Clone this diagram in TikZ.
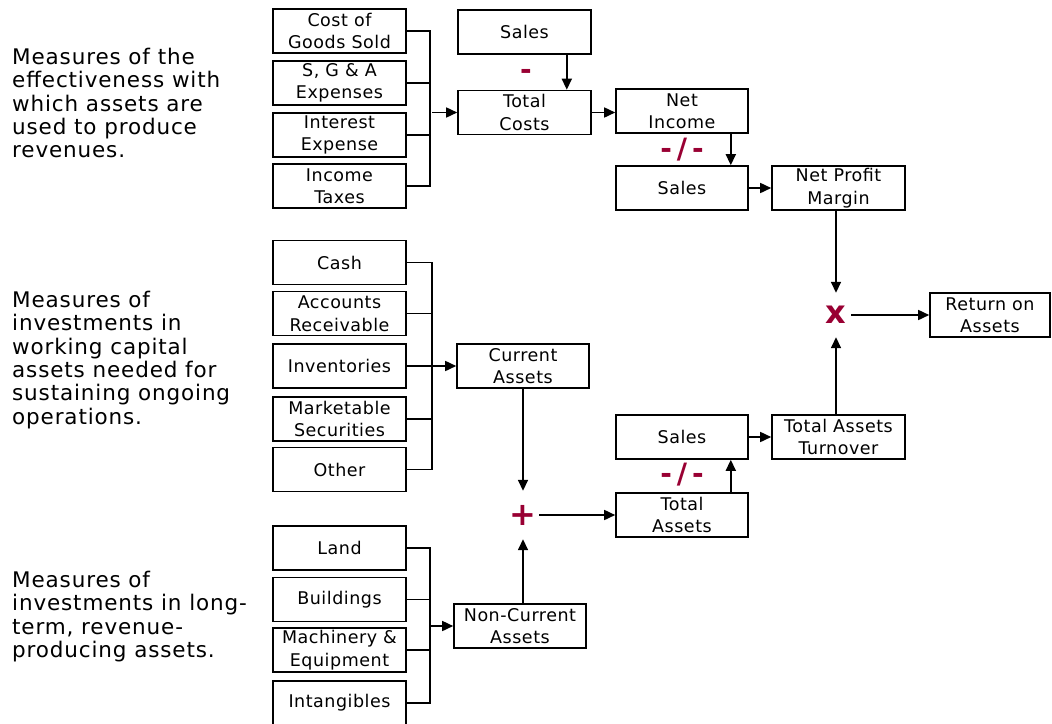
\documentclass[tikz,border=0pt]{standalone}
\usepackage{fontspec}
\setmainfont{DejaVu Sans}
\newfontfamily\boxfont[LetterSpace=3]{DejaVu Sans}
\newfontfamily\sidefont[LetterSpace=4]{DejaVu Sans}
\usetikzlibrary{arrows.meta,calc}
\definecolor{symred}{RGB}{153,0,51}
\begin{document}
\begin{tikzpicture}[x=1pt,y=-1pt,
  box/.style={draw=black, line width=1.6pt, fill=white, minimum width=133pt, minimum height=44pt, inner sep=0pt, align=center, font=\boxfont\fontsize{17.5}{22.5}\selectfont},
  conn/.style={line width=1.6pt},
  arr/.style={conn, -{Triangle[length=11pt,width=10pt]}},
  sym/.style={text=symred, font=\fontsize{28}{28}\selectfont\bfseries, inner sep=0pt},
  bigsym/.style={sym, font=\fontsize{32}{32}\selectfont\bfseries},
  side/.style={anchor=north west, align=left, font=\sidefont\fontsize{21.5}{23.3}\selectfont, inner sep=0pt}]
\useasboundingbox (0,0) rectangle (1052,723);
\clip (0,0) rectangle (1052,723);
\fill[white] (0,0) rectangle (1052,723);

% side texts
\node[side] (t1) at (12,48) {Measures of the\\effectiveness with\\which assets are\\used to produce\\revenues.};
\node[side] (t2) at (12,291) {Measures of\\investments in\\working capital\\assets needed for\\sustaining ongoing\\operations.};
\node[side] (t3) at (12,571) {Measures of\\investments in long-\\term, revenue-\\producing assets.};

% boxes
\node[box] (cogs) at (339.5,31) {Cost of\\Goods Sold};
\node[box] (sga) at (339.5,83) {S, G \& A\\Expenses};
\node[box] (intexp) at (339.5,135) {Interest\\Expense};
\node[box] (tax) at (339.5,186) {Income\\Taxes};
\node[box] (salesA) at (524.5,32) {Sales};
\node[box] (tcost) at (524.5,112.5) {Total\\Costs};
\node[box, minimum width=132pt] (netinc) at (682,111) {Net\\Income};
\node[box, minimum width=132pt] (salesB) at (682,188) {Sales};
\node[box] (npm) at (838.5,188) {Net Profit\\Margin};
\node[box, minimum width=120pt] (roa) at (990,315) {Return on\\Assets};
\node[box] (cash) at (339.5,262.5) {Cash};
\node[box] (ar) at (339.5,313.5) {Accounts\\Receivable};
\node[box] (inv) at (339.5,366) {Inventories};
\node[box] (mkt) at (339.5,419) {Marketable\\Securities};
\node[box] (other) at (339.5,469.5) {Other};
\node[box, minimum width=132pt] (cura) at (523,366) {Current\\Assets};
\node[box, minimum width=132pt] (salesC) at (682,437) {Sales};
\node[box] (tat) at (838.5,437) {Total Assets\\Turnover};
\node[box, minimum width=132pt] (ta) at (682,515) {Total\\Assets};
\node[box] (land) at (339.5,548) {Land};
\node[box] (bldg) at (339.5,599.5) {Buildings};
\node[box] (mach) at (339.5,650) {Machinery \&\\Equipment};
\node[box] (intang) at (339.5,703) {Intangibles};
\node[box, minimum width=132pt] (nca) at (520,626) {Non-Current\\Assets};

% operator symbols
\node[sym] (minus) at (526,74) {-};
\node[sym] (divA) at (682,150) {-\kern5pt/\kern5pt-};
\node[bigsym, minimum width=30pt, minimum height=44pt] (times) at (836,315) {x};
\node[bigsym, minimum width=32pt, minimum height=48pt] (plus) at (523,515) {+};
\node[sym] (divB) at (682,475) {-\kern5pt/\kern5pt-};

% top group
\coordinate (b1) at (430,112.5);
\draw[conn] (cogs.east) -| (b1) |- (tax.east);
\draw[conn] (sga.east) -- (sga.east -| b1);
\draw[conn] (intexp.east) -- (intexp.east -| b1);
\draw[arr] ([xshift=2pt]b1) -- (tcost.west);
\draw[arr] ([xshift=-25pt]salesA.south east) -- ([xshift=-25pt]tcost.north east);
\draw[arr] (tcost.east) -- (tcost.east -| netinc.west);
\draw[arr] ([xshift=-18pt]netinc.south east) -- ([xshift=-18pt]salesB.north east);
\draw[arr] (salesB.east) -- (npm.west);
\draw[arr] (npm.south -| times.north) -- (times.north);
\draw[arr] (times.east) -- (roa.west);
\draw[arr] (tat.north -| times.south) -- (times.south);

% current assets group
\coordinate (b2) at (432,366);
\draw[conn] (cash.east) -| (b2) |- (other.east);
\draw[conn] (ar.east) -- (ar.east -| b2);
\draw[conn] (mkt.east) -- (mkt.east -| b2);
\draw[arr] (inv.east) -- (cura.west);
\draw[arr] (cura.south -| plus.north) -- (plus.north);
\draw[arr] (nca.north -| plus.south) -- (plus.south);
\draw[arr] (plus.east) -- (ta.west);
\draw[arr] ([xshift=-18pt]ta.north east) -- ([xshift=-18pt]salesC.south east);
\draw[arr] (salesC.east) -- (tat.west);

% non-current group
\coordinate (b3) at (430,626);
\draw[conn] (land.east) -| (b3) |- (intang.east);
\draw[conn] (bldg.east) -- (bldg.east -| b3);
\draw[conn] (mach.east) -- (mach.east -| b3);
\draw[arr] (b3) -- (nca.west);
\end{tikzpicture}
\end{document}
